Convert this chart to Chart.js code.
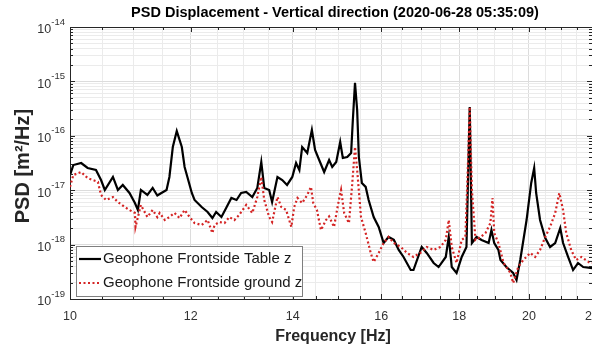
<!DOCTYPE html>
<html>
<head>
<meta charset="utf-8">
<script src="https://cdn.jsdelivr.net/npm/chart.js@4.4.0/dist/chart.umd.min.js"></script>
<style>
  html, body { margin: 0; padding: 0; background: #fff; overflow: hidden; }
</style>
</head>
<body>
<canvas id="psd" width="592" height="350"></canvas>
<script>
// PSD of the table geophone (vertical)
const freqTable = [10.00, 10.05, 10.17, 10.27, 10.40, 10.48, 10.54, 10.67, 10.75, 10.83, 10.94, 11.03, 11.08, 11.13, 11.24, 11.33, 11.41, 11.48, 11.57, 11.62, 11.68, 11.75, 11.84, 11.89, 11.94, 12.02, 12.07, 12.20, 12.31, 12.40, 12.47, 12.57, 12.66, 12.76, 12.86, 12.95, 13.05, 13.17, 13.27, 13.35, 13.41, 13.51, 13.57, 13.68, 13.78, 13.88, 13.99, 14.07, 14.14, 14.20, 14.31, 14.41, 14.48, 14.57, 14.68, 14.79, 14.86, 14.95, 15.04, 15.10, 15.20, 15.29, 15.33, 15.38, 15.43, 15.47, 15.54, 15.63, 15.70, 15.82, 15.94, 16.06, 16.18, 16.31, 16.43, 16.55, 16.73, 16.80, 17.01, 17.14, 17.32, 17.45, 17.64, 17.72, 17.80, 17.93, 18.07, 18.20, 18.29, 18.35, 18.48, 18.62, 18.82, 18.90, 18.98, 19.10, 19.16, 19.33, 19.53, 19.63, 19.74, 19.93, 20.07, 20.16, 20.22, 20.34, 20.50, 20.65, 20.81, 20.97, 21.06, 21.22, 21.38, 21.54, 21.71, 21.94, 22.00];
const psdTable = [1.90e-17, 2.90e-17, 3.16e-17, 2.56e-17, 2.35e-17, 1.54e-17, 1.01e-17, 1.75e-17, 1.01e-17, 1.25e-17, 8.89e-18, 5.82e-18, 4.33e-18, 1.01e-17, 8.17e-18, 1.10e-17, 8.00e-18, 8.89e-18, 1.01e-17, 1.75e-17, 6.22e-17, 1.22e-16, 6.22e-17, 2.67e-17, 1.75e-17, 8.89e-18, 6.61e-18, 4.91e-18, 3.97e-18, 3.08e-18, 3.97e-18, 3.21e-18, 4.71e-18, 7.19e-18, 6.61e-18, 8.89e-18, 9.27e-18, 7.50e-18, 1.10e-17, 3.30e-17, 1.10e-17, 1.01e-17, 6.07e-18, 1.75e-17, 1.54e-17, 1.25e-17, 1.75e-17, 3.16e-17, 2.35e-17, 6.22e-17, 4.83e-17, 1.28e-16, 5.48e-17, 3.59e-17, 2.16e-17, 3.59e-17, 2.67e-17, 3.30e-17, 7.69e-17, 3.91e-17, 4.07e-17, 4.83e-17, 1.95e-16, 9.40e-16, 2.98e-16, 4.07e-17, 1.36e-17, 1.15e-17, 6.61e-18, 3.21e-18, 2.11e-18, 1.07e-18, 1.38e-18, 1.22e-18, 7.96e-19, 5.92e-19, 3.41e-19, 3.41e-19, 9.04e-19, 7.01e-19, 4.59e-19, 3.87e-19, 5.92e-19, 1.38e-18, 3.87e-19, 3.01e-19, 5.92e-19, 9.04e-19, 3.38e-16, 1.07e-18, 1.38e-18, 1.22e-18, 1.07e-18, 1.85e-18, 1.07e-18, 7.96e-19, 5.21e-19, 3.87e-19, 3.01e-19, 2.23e-19, 5.21e-19, 2.83e-18, 1.36e-17, 2.56e-17, 8.89e-18, 2.83e-18, 1.32e-18, 9.04e-19, 1.07e-18, 2.02e-18, 1.07e-18, 5.92e-19, 3.41e-19, 4.59e-19, 3.87e-19, 3.72e-19, 3.70e-19];

// PSD of the ground geophone (vertical)
const freqGround = [10.00, 10.05, 10.17, 10.27, 10.43, 10.48, 10.56, 10.67, 10.75, 10.86, 10.94, 11.03, 11.04, 11.13, 11.24, 11.33, 11.41, 11.45, 11.54, 11.62, 11.71, 11.80, 11.89, 11.98, 12.07, 12.20, 12.31, 12.40, 12.44, 12.53, 12.63, 12.72, 12.82, 12.91, 13.05, 13.17, 13.27, 13.35, 13.41, 13.51, 13.57, 13.68, 13.76, 13.86, 13.97, 14.03, 14.10, 14.20, 14.31, 14.39, 14.44, 14.52, 14.61, 14.72, 14.79, 14.90, 15.01, 15.06, 15.13, 15.24, 15.31, 15.38, 15.43, 15.52, 15.63, 15.75, 15.82, 15.94, 16.06, 16.18, 16.31, 16.48, 16.64, 16.80, 17.01, 17.14, 17.32, 17.50, 17.64, 17.72, 17.80, 17.93, 18.07, 18.17, 18.23, 18.29, 18.35, 18.45, 18.59, 18.73, 18.87, 18.93, 18.98, 19.10, 19.25, 19.45, 19.53, 19.68, 19.83, 20.04, 20.19, 20.34, 20.50, 20.65, 20.81, 20.94, 21.06, 21.16, 21.32, 21.48, 21.65, 21.94, 22.00];
const psdGround = [1.15e-17, 1.90e-17, 2.16e-17, 1.67e-17, 1.42e-17, 8.17e-18, 6.61e-18, 7.50e-18, 6.07e-18, 4.91e-18, 4.33e-18, 3.81e-18, 2.11e-18, 5.35e-18, 3.21e-18, 4.33e-18, 3.21e-18, 3.81e-18, 2.83e-18, 3.21e-18, 3.81e-18, 3.08e-18, 4.33e-18, 3.21e-18, 2.49e-18, 2.29e-18, 2.83e-18, 1.63e-18, 2.29e-18, 2.60e-18, 2.49e-18, 3.21e-18, 2.83e-18, 3.50e-18, 5.35e-18, 3.81e-18, 7.50e-18, 1.75e-17, 6.61e-18, 3.21e-18, 2.60e-18, 7.50e-18, 4.91e-18, 4.33e-18, 2.11e-18, 4.91e-18, 7.19e-18, 5.82e-18, 8.17e-18, 1.15e-17, 5.82e-18, 4.33e-18, 1.85e-18, 2.83e-18, 3.30e-18, 2.11e-18, 6.61e-18, 1.01e-17, 3.81e-18, 2.49e-18, 1.15e-17, 6.22e-17, 2.35e-17, 3.21e-18, 1.63e-18, 7.01e-19, 4.79e-19, 7.01e-19, 1.07e-18, 1.38e-18, 1.07e-18, 9.04e-19, 7.01e-19, 5.92e-19, 7.31e-19, 9.04e-19, 7.96e-19, 9.04e-19, 1.22e-18, 2.83e-18, 9.04e-19, 4.59e-19, 1.22e-18, 1.38e-18, 1.75e-17, 3.38e-16, 1.01e-17, 1.22e-18, 1.38e-18, 1.63e-18, 2.49e-18, 7.19e-18, 1.63e-18, 1.07e-18, 4.59e-19, 3.01e-19, 1.97e-19, 3.87e-19, 5.21e-19, 7.01e-19, 5.92e-19, 7.96e-19, 1.38e-18, 2.11e-18, 3.81e-18, 8.89e-18, 4.33e-18, 1.63e-18, 7.96e-19, 5.21e-19, 5.92e-19, 4.59e-19, 4.59e-19];

const seriesNames = ['Geophone Frontside Table z', 'Geophone Frontside ground z'];
const xTickLabels = [10, 12, 14, 16, 18, 20, 22];
const yDecades = [-19, -18, -17, -16, -15, -14];

const FONT = '"Liberation Sans", Arial, Helvetica, sans-serif';

function toPoints(xs, ys) {
  return xs.map((f, i) => ({ x: f, y: ys[i] }));
}

// gridline positions: every 0.5 Hz, and 1..9 within each decade
const xGrid = [];
for (let f = 10; f <= 22.001; f += 0.5) xGrid.push(Math.round(f * 10) / 10);
const yGrid = [];
yDecades.forEach(e => {
  const top = e === yDecades[yDecades.length - 1] ? 1 : 9;
  for (let m = 1; m <= top; m++) yGrid.push(m * Math.pow(10, e));
});

function isDecade(v) {
  const l = Math.log10(v);
  return Math.abs(l - Math.round(l)) < 1e-6;
}

const matlabAxes = {
  id: 'matlabAxes',
  afterDraw(chart) {
    const ctx = chart.ctx;
    const a = chart.chartArea;
    const sx = chart.scales.x, sy = chart.scales.y;
    ctx.save();

    // box + inward ticks
    ctx.strokeStyle = '#262626';
    ctx.lineWidth = 1;
    ctx.beginPath();
    ctx.moveTo(a.left, a.top + 0.5); ctx.lineTo(a.right, a.top + 0.5);
    xGrid.forEach(f => {
      const px = Math.round(sx.getPixelForValue(f)) + 0.5;
      const len = xTickLabels.includes(f) ? 5 : 3;
      ctx.moveTo(px, a.bottom); ctx.lineTo(px, a.bottom - len);
      ctx.moveTo(px, a.top); ctx.lineTo(px, a.top + len);
    });
    yGrid.forEach(v => {
      const py = Math.round(sy.getPixelForValue(v)) + 0.5;
      const len = isDecade(v) ? 5 : 3;
      ctx.moveTo(a.left, py); ctx.lineTo(a.left + len, py);
      ctx.moveTo(a.right, py); ctx.lineTo(a.right - len, py);
    });
    ctx.stroke();

    // y tick labels as 10^n
    ctx.fillStyle = '#333';
    ctx.textBaseline = 'middle';
    yDecades.forEach(e => {
      const py = sy.getPixelForValue(Math.pow(10, e));
      const sup = String(e);
      ctx.font = '9.5px ' + FONT;
      const sw = ctx.measureText(sup).width;
      const xr = a.left - 5 - sw;
      ctx.textAlign = 'left';
      ctx.fillText(sup, xr, py - 5);
      ctx.font = '12.5px ' + FONT;
      ctx.textAlign = 'right';
      ctx.fillText('10', xr, py + 3);
    });

    // title and axis titles
    ctx.fillStyle = '#000';
    ctx.textAlign = 'center';
    ctx.font = 'bold 14.5px ' + FONT;
    ctx.fillText('PSD Displacement - Vertical direction (2020-06-28 05:35:09)', (a.left + a.right) / 2 + 4, 13);
    ctx.fillStyle = '#262626';
    ctx.font = 'bold 16px ' + FONT;
    ctx.fillText('Frequency [Hz]', (a.left + a.right) / 2 + 2, 337);
    ctx.save();
    ctx.translate(23, 166);
    ctx.rotate(-Math.PI / 2);
    ctx.font = 'bold 20px ' + FONT;
    ctx.fillText('PSD [m\u00b2/Hz]', 0, 0);
    ctx.restore();

    // legend box in the lower left corner of the axes
    const lx = 76, ly = 246, lw = 226, lh = 50;
    ctx.fillStyle = '#fff';
    ctx.fillRect(lx, ly, lw, lh);
    ctx.strokeStyle = '#7f7f7f';
    ctx.lineWidth = 1;
    ctx.strokeRect(lx + 0.5, ly + 0.5, lw, lh);
    const ds = chart.data.datasets;
    [0, 1].forEach(i => {
      const yy = ly + 13 + i * 24;
      ctx.strokeStyle = ds[i].borderColor;
      ctx.lineWidth = ds[i].borderWidth;
      ctx.setLineDash(ds[i].borderDash || []);
      ctx.beginPath();
      ctx.moveTo(lx + 3, yy);
      ctx.lineTo(lx + 25, yy);
      ctx.stroke();
      ctx.setLineDash([]);
      ctx.fillStyle = '#1a1a1a';
      ctx.font = '15px ' + FONT;
      ctx.textAlign = 'left';
      ctx.fillText(seriesNames[i], lx + 27, yy);
    });
    ctx.restore();
  }
};

new Chart(document.getElementById('psd').getContext('2d'), {
  type: 'line',
  data: {
    datasets: [{
      label: seriesNames[0],
      data: toPoints(freqTable, psdTable),
      borderColor: '#000000',
      borderWidth: 2.2,
      pointRadius: 0,
      tension: 0,
      order: 1
    }, {
      label: seriesNames[1],
      data: toPoints(freqGround, psdGround),
      borderColor: '#d42424',
      borderWidth: 2.2,
      borderDash: [2, 2.5],
      pointRadius: 0,
      tension: 0,
      order: 0
    }]
  },
  options: {
    responsive: false,
    animation: false,
    // axes run slightly past the right edge of the canvas
    layout: { padding: { top: 27, right: -2, left: 0, bottom: 0 } },
    plugins: { legend: { display: false }, title: { display: false }, tooltip: { enabled: false } },
    scales: {
      x: {
        type: 'logarithmic',
        min: 10,
        max: 22,
        afterBuildTicks: s => { s.ticks = xGrid.map(v => ({ value: v })); },
        afterFit: s => { s.height = 51; s.paddingLeft = 0; s.paddingRight = 0; },
        ticks: {
          autoSkip: false,
          maxRotation: 0,
          padding: 10,
          color: '#333',
          font: { size: 12.5, family: FONT },
          callback: v => xTickLabels.includes(v) ? String(v) : ''
        },
        grid: {
          drawTicks: false,
          color: c => xTickLabels.includes(c.tick.value) ? '#dcdcdc' : '#ebebeb'
        },
        border: { display: true, color: '#262626' }
      },
      y: {
        type: 'logarithmic',
        min: 1e-19,
        max: 1e-14,
        afterBuildTicks: s => { s.ticks = yGrid.map(v => ({ value: v })); },
        afterFit: s => { s.width = 70; s.paddingTop = 0; s.paddingBottom = 0; },
        ticks: { display: false },
        grid: {
          drawTicks: false,
          color: c => isDecade(c.tick.value) ? '#dcdcdc' : '#ebebeb'
        },
        border: { display: true, color: '#262626' }
      }
    }
  },
  plugins: [matlabAxes]
});
</script>
</body>
</html>
